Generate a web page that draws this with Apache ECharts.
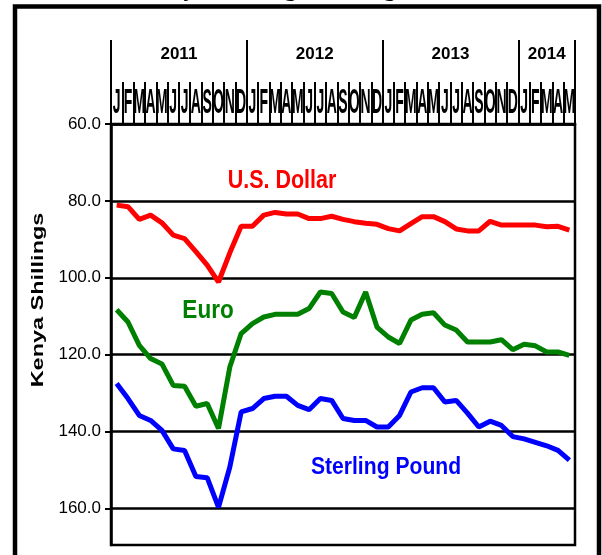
<!DOCTYPE html>
<html>
<head>
<meta charset="utf-8">
<script src="https://cdn.jsdelivr.net/npm/echarts@6/dist/echarts.min.js"></script>
<style>
  html, body { margin: 0; padding: 0; background: #fff; }
  #chart { width: 602px; height: 555px; }
</style>
</head>
<body>
<div id="chart"></div>
<script>
// months Jan 2011 .. May 2014
const MONTHS = [
  "Jan-11", "Feb-11", "Mar-11", "Apr-11", "May-11", "Jun-11", "Jul-11", "Aug-11", "Sep-11", "Oct-11", "Nov-11", "Dec-11",
  "Jan-12", "Feb-12", "Mar-12", "Apr-12", "May-12", "Jun-12", "Jul-12", "Aug-12", "Sep-12", "Oct-12", "Nov-12", "Dec-12",
  "Jan-13", "Feb-13", "Mar-13", "Apr-13", "May-13", "Jun-13", "Jul-13", "Aug-13", "Sep-13", "Oct-13", "Nov-13", "Dec-13",
  "Jan-14", "Feb-14", "Mar-14", "Apr-14", "May-14"
];
const YEARS = ["2011", "2012", "2013", "2014"];
const YEAR_BOUNDS = [0, 12, 24, 36, 41];
const Y_TICKS = [60, 80, 100, 120, 140, 160];

// Kenya shillings per unit
const usDollar = [
  81.1, 81.5, 84.8, 83.7, 85.7, 88.9, 89.8, 93.2, 96.7, 101.1, 93.5, 86.6,
  86.6, 83.7, 83.0, 83.4, 83.4, 84.6, 84.6, 84.0, 84.8, 85.4, 85.8, 86.1,
  87.2, 87.8, 85.9, 84.1, 84.1, 85.4, 87.3, 87.8, 87.8, 85.3, 86.3, 86.3,
  86.3, 86.3, 86.7, 86.6, 87.6
];
const euro = [
  108.3, 111.5, 117.6, 121.0, 122.4, 128.0, 128.2, 133.4, 132.7, 139.2, 123.2, 114.5,
  111.9, 110.2, 109.5, 109.5, 109.5, 108.0, 103.7, 104.1, 108.9, 110.3, 103.7, 112.8,
  115.4, 117.1, 111.0, 109.5, 109.1, 112.3, 113.6, 116.7, 116.7, 116.7, 116.1, 118.7,
  117.3, 117.7, 119.3, 119.3, 120.2
];
const sterling = [
  127.5, 131.4, 135.8, 137.1, 139.7, 144.5, 144.9, 151.7, 152.0, 159.7, 149.2, 134.9,
  134.0, 131.4, 130.8, 130.8, 133.2, 134.3, 131.4, 131.9, 136.6, 137.1, 137.1, 138.8,
  138.8, 135.8, 129.7, 128.6, 128.6, 132.3, 131.9, 135.2, 138.8, 137.3, 138.4, 141.3,
  141.9, 142.8, 143.7, 144.9, 147.4
];

const yearMids = YEARS.map((y, i) => (YEAR_BOUNDS[i] + YEAR_BOUNDS[i + 1]) / 2);
const SANS = '"Liberation Sans", Arial, sans-serif';

const chart = echarts.init(document.getElementById("chart"));

function seriesLine(name, data, color) {
  return {
    name: name,
    type: "line",
    data: data,
    symbol: "none",
    lineStyle: { color: color, width: 5 },
    itemStyle: { color: color },
    z: 3
  };
}

const option = {
  animation: false,
  title: {
    text: "Kenya Shilling Exchange Rates",
    left: 139,
    top: -23,
    padding: 0,
    textStyle: { fontFamily: '"Liberation Serif", serif', fontWeight: "bold", fontSize: 25, color: "#000" }
  },
  grid: {
    left: 111, right: 27, top: 124, bottom: 10,
    show: true, borderColor: "#000", borderWidth: 2.5
  },
  xAxis: [
    {
      type: "category",
      data: MONTHS,
      position: "top",
      boundaryGap: true,
      axisLine: { show: true, lineStyle: { color: "#000", width: 2.5 } },
      axisTick: { show: true, interval: 0, length: 42, lineStyle: { color: "#000", width: 2 } },
      axisLabel: { show: false },
      splitLine: { show: false }
    },
    {
      type: "value",
      position: "top",
      min: 0,
      max: MONTHS.length,
      axisLine: { show: false },
      axisTick: {
        show: true, length: 84, customValues: YEAR_BOUNDS,
        lineStyle: { color: "#000", width: 2 }
      },
      axisLabel: {
        show: true, margin: 61, customValues: yearMids,
        formatter: (v) => YEARS[yearMids.indexOf(v)] || "",
        fontFamily: SANS, fontWeight: "bold", fontSize: 17, color: "#000"
      },
      splitLine: { show: false }
    }
  ],
  yAxis: {
    type: "value",
    inverse: true,
    min: 60,
    max: 169.5,
    interval: 20,
    axisLine: { show: true, lineStyle: { color: "#000", width: 2.5 } },
    axisTick: { show: true, length: 6, customValues: Y_TICKS, lineStyle: { color: "#000", width: 2 } },
    axisLabel: {
      customValues: Y_TICKS,
      margin: 10,
      formatter: (v) => v.toFixed(1),
      fontFamily: SANS, fontSize: 17, color: "#000"
    },
    splitLine: { show: true, lineStyle: { color: "#000", width: 2.5 } }
  },
  series: [
    seriesLine("U.S. Dollar", usDollar, "#ff0000"),
    seriesLine("Euro", euro, "#008000"),
    seriesLine("Sterling Pound", sterling, "#0000ff"),
    {
      // tall, squeezed month initials above the plot
      type: "custom",
      silent: true,
      clip: false,
      data: MONTHS.map((m, i) => [i, 60]),
      renderItem: function (params, api) {
        const p = api.coord([api.value(0), api.value(1)]);
        return {
          type: "text",
          x: p[0],
          y: p[1] - 21,
          scaleX: 0.4,
          style: {
            text: MONTHS[api.value(0)].charAt(0),
            font: 'bold 35px "Liberation Sans", Arial, sans-serif',
            fill: "#000",
            align: "center",
            verticalAlign: "middle"
          }
        };
      },
      z: 5
    }
  ],
  graphic: [
    {
      type: "rect",
      shape: { x: 15, y: 6.5, width: 584, height: 600 },
      style: { fill: "none", stroke: "#000", lineWidth: 4.5 },
      silent: true
    },
    {
      type: "text",
      x: 38, y: 300,
      rotation: Math.PI / 2,
      scaleX: 1.38,
      style: { text: "Kenya Shillings", font: 'bold 17px "Liberation Sans", Arial, sans-serif', fill: "#000", align: "center", verticalAlign: "middle" }
    },
    {
      type: "text",
      x: 282, y: 181, scaleX: 0.86,
      style: { text: "U.S. Dollar", font: 'bold 25px "Liberation Sans", Arial, sans-serif', fill: "#ff0000", align: "center", verticalAlign: "middle" }
    },
    {
      type: "text",
      x: 208, y: 311, scaleX: 0.9,
      style: { text: "Euro", font: 'bold 25px "Liberation Sans", Arial, sans-serif', fill: "#008000", align: "center", verticalAlign: "middle" }
    },
    {
      type: "text",
      x: 386, y: 467, scaleX: 0.88,
      style: { text: "Sterling Pound", font: 'bold 24px "Liberation Sans", Arial, sans-serif', fill: "#0000ff", align: "center", verticalAlign: "middle" }
    }
  ]
};

chart.setOption(option);
</script>
</body>
</html>
